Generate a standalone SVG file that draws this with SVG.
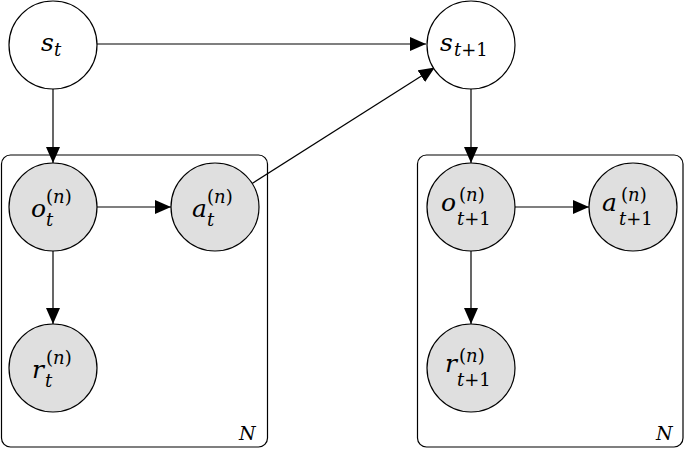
<svg xmlns="http://www.w3.org/2000/svg" width="685" height="449" viewBox="0 0 685 449">
<style>
.plate{fill:none;stroke:#000;stroke-width:1.2}
.node{stroke:#000;stroke-width:1.2}
.obs{fill:#dfdfdf}
.lat{fill:#fff}
.edge{stroke:#000;stroke-width:1.2;fill:none;marker-end:url(#arr)}
text{font-family:"DejaVu Serif",serif;font-style:italic;fill:#000;font-size:25px}
.s{font-size:18px}
.n{font-size:19px}
.up{font-style:normal}
</style>
<defs>
<marker id="arr" markerUnits="userSpaceOnUse" markerWidth="18" markerHeight="14" refX="16" refY="7" orient="auto">
<path d="M0,0 L16,7 L0,14 Z" fill="#000"/>
</marker>
</defs>
<g id="plates">
<rect class="plate" x="1.5" y="155" width="266" height="292" rx="9"/>
<text class="n" x="239" y="440">N</text>
<rect class="plate" x="417.5" y="155" width="265.5" height="292" rx="9"/>
<text class="n" x="656" y="440">N</text>
</g>
<g id="connectors">
<line class="edge" x1="97" y1="44" x2="426" y2="44"/>
<line class="edge" x1="53" y1="88" x2="53" y2="163"/>
<line class="edge" x1="97" y1="207" x2="171" y2="207"/>
<line class="edge" x1="53" y1="251" x2="53" y2="324"/>
<line class="edge" x1="252.2" y1="183.4" x2="434.8" y2="67.6"/>
<line class="edge" x1="471" y1="88" x2="471" y2="163"/>
<line class="edge" x1="515" y1="207" x2="589" y2="207"/>
<line class="edge" x1="471" y1="251" x2="471" y2="324"/>
</g>
<g id="s_t">
<circle class="node lat" cx="53" cy="45" r="44"/>
<text x="41" y="51">s<tspan class="s" x="54" y="56">t</tspan></text>
</g>
<g id="s_t1">
<circle class="node lat" cx="471" cy="45" r="44"/>
<text x="440" y="51">s<tspan class="s" x="454" y="56">t<tspan class="up">+1</tspan></tspan></text>
</g>
<g id="o_t">
<circle class="node obs" cx="53" cy="207" r="44"/>
<text x="31" y="217">o<tspan class="s" x="46" y="203"><tspan class="up">(</tspan>n<tspan class="up">)</tspan></tspan><tspan class="s" x="46" y="226">t</tspan></text>
</g>
<g id="a_t">
<circle class="node obs" cx="215" cy="207" r="44"/>
<text x="192" y="217">a<tspan class="s" x="207" y="203"><tspan class="up">(</tspan>n<tspan class="up">)</tspan></tspan><tspan class="s" x="207" y="226">t</tspan></text>
</g>
<g id="r_t">
<circle class="node obs" cx="53" cy="368" r="44"/>
<text x="32" y="378">r<tspan class="s" x="46" y="364"><tspan class="up">(</tspan>n<tspan class="up">)</tspan></tspan><tspan class="s" x="45" y="387">t</tspan></text>
</g>
<g id="o_t1">
<circle class="node obs" cx="471" cy="207" r="44"/>
<text x="441" y="211">o<tspan class="s" x="459" y="201"><tspan class="up">(</tspan>n<tspan class="up">)</tspan></tspan><tspan class="s" x="457" y="225">t<tspan class="up">+1</tspan></tspan></text>
</g>
<g id="a_t1">
<circle class="node obs" cx="633" cy="207" r="44"/>
<text x="602" y="211">a<tspan class="s" x="621" y="201"><tspan class="up">(</tspan>n<tspan class="up">)</tspan></tspan><tspan class="s" x="619" y="225">t<tspan class="up">+1</tspan></tspan></text>
</g>
<g id="r_t1">
<circle class="node obs" cx="471" cy="368" r="44"/>
<text x="445" y="372">r<tspan class="s" x="459" y="362"><tspan class="up">(</tspan>n<tspan class="up">)</tspan></tspan><tspan class="s" x="457" y="386">t<tspan class="up">+1</tspan></tspan></text>
</g>
</svg>
